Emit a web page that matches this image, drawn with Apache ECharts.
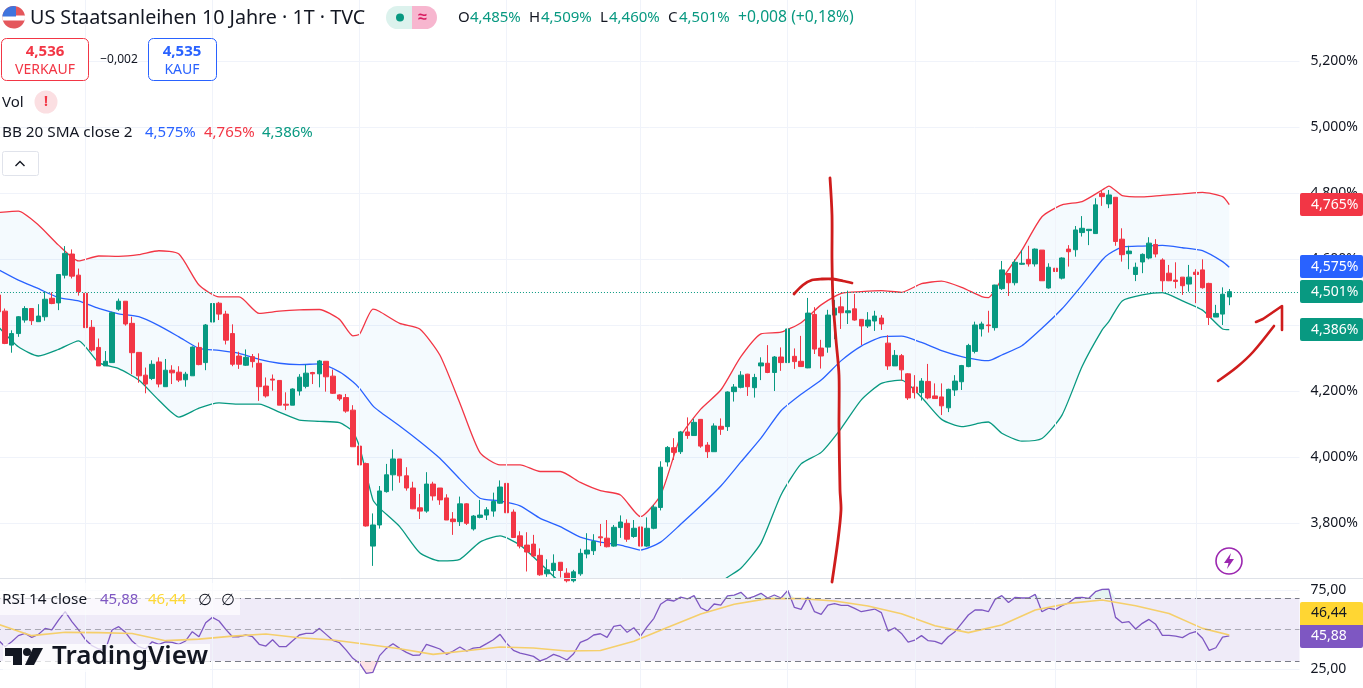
<!DOCTYPE html>
<html>
<head>
<meta charset="utf-8">
<title>US Staatsanleihen 10 Jahre</title>
<script src="https://cdn.jsdelivr.net/npm/echarts@6/dist/echarts.min.js"></script>
<style>
  html, body { margin: 0; padding: 0; background: #fff; }
  #chart { width: 1363px; height: 688px; }
</style>
</head>
<body>
<div id="chart"></div>
<script>
// daily candles (10 per row)
var opens = [
  4.491,4.442,4.339,4.374,4.415,4.450,4.410,4.425,4.481,4.467,
  4.551,4.615,4.551,4.496,4.393,4.332,4.276,4.286,4.448,4.472,
  4.405,4.317,4.248,4.238,4.288,4.213,4.263,4.257,4.234,4.246,
  4.332,4.286,4.409,4.466,4.433,4.374,4.306,4.278,4.304,4.284,
  4.215,4.236,4.232,4.160,4.157,4.200,4.214,4.256,4.252,4.290,
  4.245,4.188,4.180,4.142,4.033,3.980,3.730,3.794,3.895,3.946,
  3.994,3.943,3.906,3.846,3.836,3.918,3.906,3.876,3.812,3.804,
  3.858,3.782,3.817,3.824,3.836,3.860,3.920,3.833,3.761,3.733,
  3.736,3.702,3.646,3.656,3.681,3.648,3.625,3.646,3.706,3.716,
  3.758,3.754,3.730,3.786,3.799,3.759,3.788,3.730,3.784,3.847,
  3.985,4.028,4.016,4.076,4.065,4.114,4.036,4.016,4.093,4.092,
  4.198,4.211,4.251,4.210,4.276,4.284,4.256,4.303,4.286,4.305,
  4.290,4.270,4.432,4.330,4.333,4.430,4.455,4.437,4.449,4.417,
  4.397,4.412,4.421,4.345,4.276,4.307,4.252,4.212,4.195,4.229,
  4.185,4.182,4.149,4.203,4.228,4.274,4.320,4.388,4.400,4.392,
  4.510,4.556,4.528,4.584,4.599,4.585,4.627,4.512,4.572,4.542,
  4.630,4.628,4.680,4.686,4.677,4.799,4.767,4.787,4.660,4.616,
  4.553,4.591,4.603,4.644,4.597,4.557,4.536,4.545,4.524,4.560,
  4.567,4.526,4.424,4.433,4.485
];
var closes = [
  4.440,4.344,4.374,4.425,4.450,4.413,4.427,4.478,4.465,4.553,
  4.617,4.548,4.501,4.392,4.324,4.276,4.290,4.437,4.472,4.403,
  4.316,4.246,4.221,4.281,4.221,4.263,4.255,4.233,4.251,4.333,
  4.280,4.400,4.465,4.433,4.354,4.281,4.281,4.302,4.289,4.213,
  4.185,4.233,4.157,4.157,4.206,4.242,4.254,4.252,4.291,4.243,
  4.193,4.176,4.139,4.031,3.976,3.791,3.794,3.897,3.946,3.994,
  3.943,3.906,3.843,3.836,3.918,3.882,3.870,3.809,3.804,3.858,
  3.799,3.821,3.824,3.840,3.865,3.909,3.831,3.756,3.730,3.712,
  3.700,3.643,3.658,3.678,3.656,3.625,3.652,3.708,3.718,3.744,
  3.755,3.728,3.787,3.803,3.751,3.784,3.730,3.784,3.848,3.969,
  4.029,4.014,4.076,4.065,4.105,4.033,4.016,4.094,4.084,4.197,
  4.212,4.248,4.213,4.241,4.285,4.256,4.303,4.286,4.388,4.289,
  4.274,4.436,4.327,4.306,4.430,4.451,4.437,4.443,4.415,4.397,
  4.415,4.427,4.403,4.276,4.308,4.264,4.179,4.195,4.230,4.179,
  4.177,4.155,4.205,4.230,4.277,4.338,4.400,4.403,4.398,4.521,
  4.567,4.528,4.590,4.587,4.585,4.630,4.534,4.575,4.562,4.603,
  4.622,4.688,4.693,4.690,4.764,4.789,4.794,4.653,4.613,4.624,
  4.575,4.614,4.648,4.615,4.534,4.534,4.532,4.519,4.545,4.553,
  4.513,4.423,4.435,4.493,4.501
];
var highs = [
  4.500,4.450,4.384,4.427,4.457,4.451,4.463,4.501,4.499,4.553,
  4.639,4.629,4.571,4.501,4.415,4.359,4.321,4.440,4.480,4.472,
  4.425,4.317,4.271,4.293,4.302,4.297,4.278,4.275,4.258,4.335,
  4.347,4.403,4.494,4.470,4.443,4.402,4.319,4.326,4.312,4.314,
  4.241,4.250,4.232,4.196,4.208,4.251,4.280,4.258,4.294,4.290,
  4.265,4.190,4.191,4.157,4.067,3.983,3.829,3.912,3.979,4.023,
  3.994,3.969,3.925,3.888,3.954,3.925,3.906,3.887,3.833,3.880,
  3.860,3.824,3.870,3.848,3.892,3.929,3.932,3.841,3.775,3.772,
  3.764,3.723,3.690,3.705,3.681,3.663,3.658,3.722,3.769,3.766,
  3.797,3.809,3.794,3.823,3.811,3.809,3.789,3.817,3.855,3.987,
  4.033,4.057,4.079,4.120,4.115,4.114,4.045,4.102,4.117,4.199,
  4.221,4.260,4.252,4.252,4.302,4.339,4.306,4.332,4.390,4.329,
  4.367,4.482,4.454,4.355,4.446,4.476,4.486,4.504,4.494,4.417,
  4.439,4.443,4.430,4.369,4.324,4.312,4.254,4.248,4.239,4.282,
  4.223,4.223,4.207,4.248,4.279,4.343,4.410,4.410,4.443,4.522,
  4.594,4.556,4.599,4.627,4.640,4.632,4.627,4.587,4.599,4.605,
  4.642,4.700,4.730,4.691,4.784,4.807,4.809,4.787,4.693,4.640,
  4.589,4.617,4.666,4.660,4.602,4.582,4.590,4.545,4.582,4.569,
  4.599,4.528,4.461,4.514,4.509
];
var lows = [
  4.438,4.342,4.316,4.364,4.407,4.400,4.410,4.413,4.463,4.445,
  4.541,4.541,4.489,4.392,4.319,4.276,4.276,4.286,4.443,4.398,
  4.251,4.225,4.193,4.233,4.211,4.213,4.221,4.227,4.213,4.246,
  4.278,4.263,4.389,4.415,4.341,4.275,4.267,4.276,4.271,4.170,
  4.180,4.201,4.157,4.142,4.157,4.186,4.208,4.221,4.211,4.198,
  4.191,4.170,4.134,4.031,3.968,3.789,3.670,3.783,3.892,3.898,
  3.922,3.898,3.842,3.812,3.831,3.868,3.855,3.809,3.764,3.791,
  3.794,3.777,3.814,3.809,3.819,3.858,3.829,3.756,3.723,3.653,
  3.698,3.640,3.637,3.635,3.635,3.620,3.620,3.640,3.693,3.703,
  3.730,3.726,3.728,3.755,3.743,3.755,3.700,3.728,3.781,3.838,
  3.971,3.991,4.009,4.055,4.065,4.028,3.997,4.016,4.067,4.079,
  4.168,4.208,4.185,4.180,4.233,4.254,4.200,4.261,4.225,4.267,
  4.274,4.269,4.312,4.268,4.316,4.357,4.388,4.403,4.413,4.339,
  4.391,4.382,4.385,4.264,4.276,4.231,4.173,4.177,4.171,4.175,
  4.177,4.127,4.136,4.185,4.203,4.272,4.314,4.365,4.377,4.383,
  4.506,4.488,4.520,4.582,4.577,4.577,4.534,4.510,4.518,4.538,
  4.577,4.607,4.668,4.642,4.677,4.761,4.754,4.640,4.592,4.569,
  4.533,4.557,4.599,4.605,4.501,4.533,4.511,4.491,4.501,4.466,
  4.510,4.400,4.424,4.400,4.460
];

// Bollinger bands, read at these bars
var bbBars = [0,3,6,9,12,15,18,21,24,27,30,33,36,39,42,45,48,51,53,54,56,57,60,63,66,69,72,75,78,81,84,87,90,93,96,99,
  102,105,108,111,114,117,120,123,126,129,132,135,138,141,144,147,148,150,153,156,159,162,165,166,168,171,174,177,180,183,184];
var bbUpper = [4.741,4.745,4.703,4.642,4.594,4.609,4.608,4.613,4.625,4.615,4.521,4.485,4.485,4.435,4.442,4.446,4.447,4.417,4.367,4.372,4.448,4.441,4.405,4.388,4.309,4.163,4.013,3.976,3.976,3.956,3.956,3.923,3.898,3.885,3.819,3.885,
  4.062,4.145,4.203,4.304,4.373,4.378,4.407,4.461,4.496,4.501,4.504,4.499,4.525,4.533,4.514,4.486,4.483,4.539,4.627,4.728,4.764,4.774,4.809,4.821,4.792,4.788,4.793,4.797,4.802,4.789,4.765];
var bbBasis = [4.568,4.536,4.510,4.483,4.473,4.450,4.434,4.425,4.398,4.364,4.329,4.323,4.314,4.296,4.284,4.280,4.282,4.258,4.228,4.208,4.155,4.138,4.094,4.047,3.996,3.933,3.875,3.867,3.852,3.814,3.789,3.757,3.742,3.733,3.718,3.742,
  3.796,3.852,3.912,3.985,4.057,4.140,4.190,4.233,4.292,4.336,4.363,4.366,4.347,4.322,4.304,4.293,4.292,4.309,4.337,4.390,4.449,4.521,4.597,4.615,4.636,4.639,4.641,4.634,4.625,4.592,4.575];
var bbLower = [4.395,4.334,4.306,4.326,4.352,4.286,4.268,4.233,4.172,4.121,4.148,4.164,4.160,4.160,4.136,4.112,4.108,4.104,4.077,4.031,3.870,3.845,3.789,3.710,3.685,3.690,3.742,3.761,3.733,3.678,3.620,3.580,3.550,3.530,3.520,3.500,
  3.490,3.520,3.620,3.663,3.739,3.885,3.979,4.014,4.087,4.173,4.223,4.233,4.181,4.114,4.092,4.104,4.106,4.072,4.048,4.056,4.127,4.274,4.385,4.410,4.473,4.491,4.498,4.473,4.445,4.388,4.386];

// RSI per bar
var rsiValues = [
  43.3,39.1,42.2,46.1,47.5,45,46.9,50.7,49.7,56,
  61.3,55,49.7,43.7,39.7,37.6,36.9,49.7,51.8,48.2,
  42.7,39.1,37.6,42.2,40.6,42.2,41.8,40.6,42.7,48.6,
  45.4,54.3,57.7,55.4,50.1,45.4,45.4,46.5,45.4,40.6,
  39.5,43.5,39.1,39.1,42.9,46.5,47.5,47.5,50.7,46.9,
  43.1,41.6,36.9,31.7,28.5,22.1,22.8,33.4,38,41,
  38,35.5,33.6,33.8,40.6,39.1,37.6,34.2,36.3,38.9,
  36.3,38.2,38.6,41,43.5,46.9,41.2,36.7,35,34,
  32.9,30,31.7,34.2,32.7,30.6,34.6,41.8,43.5,46.5,
  47.3,45,52,52.8,48.2,51.1,45.8,51.8,57.1,66,
  68.9,68.1,70.6,69.4,71.5,63.8,61.7,66.2,65.5,71.3,
  71.9,73.6,69.6,71,73,70,71.9,70,74.9,64,
  62.8,70.6,61.3,59.6,65.5,66.4,65.3,65.3,63.4,61.3,
  62.2,63,60.7,49,51.1,47.5,42,43.3,46.1,42.9,
  42.5,40.8,45.4,48.6,53.9,59.2,62.4,62.4,61.3,69.1,
  71.5,67.2,70.4,70,70,72.3,61.3,63.6,62.6,65.1,
  67,70.2,70.4,69.8,74,75.5,75.7,57.7,54.3,55,
  50.3,53.9,56.4,53.3,46.3,46.3,45.8,44.8,47.3,48.6,
  44.4,36.7,38.4,45.2,45.88
];
var rsiMaBars = [0,5,10,15,20,25,30,35,40,45,50,55,60,65,70,75,80,85,90,95,100,105,110,115,120,125,130,135,140,145,150,155,160,165,170,175,180,184];
var rsiMaValues = [53.3,46.1,48.2,48,47.5,42.9,43.9,45.8,47.1,44.8,43.3,40.6,37.8,34.2,36.5,38.9,38.2,36.3,36.7,42.5,51.3,59.8,66,69.6,69.6,68.1,64.9,60,52.4,48,52.8,62.4,66.6,68.7,65.1,60.2,50.7,46.44];

// first bar of each month, the vertical grid lines
var monthBars = [13,32,54,76,96,118,137,158,179];
var priceTicks = [3.8,4,4.2,4.4,4.6,4.8,5,5.2];
var rsiTicks = [25,75];
var barCount = 195;

var FONT = '"Noto Sans", sans-serif';
var UP = '#089981', DOWN = '#f23645', BLUE = '#2962ff', PURPLE = '#7e57c2', YELLOW = '#fdd835';
var INK = '#131722', GRID = '#f0f3fa';

var categories = [];
for (var c = 0; c < barCount; c++) categories.push(c);

function pairs(bars, values) {
  return bars.map(function (b, i) { return [b, values[i]]; });
}

function comma(v, digits) {
  return v.toFixed(digits).replace('.', ',');
}

function monthLines() {
  return {
    silent: true, symbol: 'none', animation: false, label: { show: false },
    lineStyle: { color: GRID, width: 1, type: 'solid' },
    data: monthBars.map(function (b) { return { xAxis: b }; })
  };
}

function text(x, y, str, size, color, extra) {
  var style = { x: x, y: y, text: str, fill: color, font: (extra && extra.weight ? extra.weight + ' ' : '') + size + 'px ' + FONT,
    textVerticalAlign: 'middle', textAlign: (extra && extra.align) || 'left' };
  return { type: 'text', z: 100, silent: true, style: style };
}

function rect(x, y, w, h, r, fill, stroke) {
  return { type: 'rect', z: 99, silent: true, shape: { x: x, y: y, width: w, height: h, r: r },
    style: { fill: fill, stroke: stroke || null, lineWidth: 1 } };
}

function circle(x, y, r, fill, stroke, lw) {
  return { type: 'circle', z: 99, silent: true, shape: { cx: x, cy: y, r: r },
    style: { fill: fill, stroke: stroke || null, lineWidth: lw || 1 } };
}

function poly(points, fill, z) {
  return { type: 'polygon', z: z || 100, silent: true, shape: { points: points }, style: { fill: fill } };
}

function pen(points, width) {
  return { type: 'polyline', z: 110, silent: true, shape: { points: points, smooth: 0.3 },
    style: { stroke: '#cf1c1c', fill: null, lineWidth: width || 2.8, lineCap: 'round', lineJoin: 'round' } };
}

// flag pieces are slices of a disc
function discSlice(cx, cy, r, y1, y2, xMax) {
  var pts = [], y, dx;
  for (y = y1; y <= y2; y += 0.5) {
    dx = Math.sqrt(Math.max(0, r * r - (y - cy) * (y - cy)));
    pts.push([Math.min(cx + dx, xMax), y]);
  }
  for (y = y2; y >= y1; y -= 0.5) {
    dx = Math.sqrt(Math.max(0, r * r - (y - cy) * (y - cy)));
    pts.push([Math.min(cx - dx, xMax), y]);
  }
  return pts;
}

var chart = echarts.init(document.getElementById('chart'), null, { renderer: 'canvas' });

function bandItem(params, api) {
  var top = bbBars.map(function (b, i) { return api.coord([b, bbUpper[i]]); });
  var bottom = bbBars.map(function (b, i) { return api.coord([b, bbLower[i]]); }).reverse();
  return { type: 'polygon', shape: { points: top.concat(bottom) }, style: { fill: 'rgba(33,150,243,0.05)' } };
}

chart.setOption({
  animation: false,
  backgroundColor: '#ffffff',
  textStyle: { fontFamily: FONT },
  grid: [
    { left: -5.05, top: 0, width: 1304.55, height: 578, outerBoundsMode: 'none' },
    { left: -5.05, top: 579, width: 1304.55, height: 109, outerBoundsMode: 'none' }
  ],
  xAxis: [0, 1].map(function (g) {
    return { type: 'category', gridIndex: g, data: categories, boundaryGap: true, show: false };
  }),
  yAxis: [
    {
      type: 'value', gridIndex: 0, position: 'right', min: 3.6333, max: 5.3848,
      axisLine: { show: false },
      axisTick: { show: false, customValues: priceTicks },
      axisLabel: {
        customValues: priceTicks, color: INK, fontSize: 14, margin: 11, fontFamily: FONT,
        formatter: function (v) { return comma(v, 3) + '%'; }
      },
      splitLine: { show: true, lineStyle: { color: GRID, width: 1 } }
    },
    {
      type: 'value', gridIndex: 1, position: 'right', min: 12.83, max: 82.08,
      axisLine: { show: false },
      axisTick: { show: false, customValues: rsiTicks },
      axisLabel: {
        customValues: rsiTicks, color: INK, fontSize: 14, margin: 11, fontFamily: FONT,
        formatter: function (v) { return comma(v, 2); }
      },
      splitLine: { show: true, lineStyle: { color: GRID, width: 1 } }
    }
  ],
  series: [
    {
      name: 'band', type: 'custom', xAxisIndex: 0, yAxisIndex: 0, z: 1, clip: true, silent: true,
      renderItem: bandItem, data: [[0, 4.5]]
    },
    {
      name: 'BB upper', type: 'line', xAxisIndex: 0, yAxisIndex: 0, z: 2, showSymbol: false, silent: true, smooth: 0.2,
      data: pairs(bbBars, bbUpper), lineStyle: { color: DOWN, width: 1.3 }, markLine: monthLines()
    },
    {
      name: 'BB basis', type: 'line', xAxisIndex: 0, yAxisIndex: 0, z: 2, showSymbol: false, silent: true, smooth: 0.2,
      data: pairs(bbBars, bbBasis), lineStyle: { color: BLUE, width: 1.3 }
    },
    {
      name: 'BB lower', type: 'line', xAxisIndex: 0, yAxisIndex: 0, z: 2, showSymbol: false, silent: true, smooth: 0.2,
      data: pairs(bbBars, bbLower), lineStyle: { color: UP, width: 1.3 }
    },
    {
      name: 'US10Y', type: 'candlestick', xAxisIndex: 0, yAxisIndex: 0, z: 3, silent: true, barWidth: 5,
      data: opens.map(function (o, i) { return [o, closes[i], lows[i], highs[i]]; }),
      itemStyle: { color: UP, color0: DOWN, borderColor: UP, borderColor0: DOWN, borderWidth: 1 },
      markLine: {
        silent: true, symbol: 'none', animation: false, label: { show: false },
        lineStyle: { color: UP, width: 1, type: [1, 2] },
        data: [{ yAxis: closes[closes.length - 1] }]
      }
    },
    {
      name: 'RSI', type: 'line', xAxisIndex: 1, yAxisIndex: 1, z: 3, showSymbol: false, silent: true,
      data: rsiValues, lineStyle: { color: PURPLE, width: 1.3 },
      markArea: {
        silent: true, itemStyle: { color: 'rgba(126,87,194,0.12)' },
        data: [[{ yAxis: 70 }, { yAxis: 30 }]]
      },
      markLine: {
        silent: true, symbol: 'none', animation: false, label: { show: false },
        lineStyle: { color: '#787b86', width: 1, type: [6, 4] },
        data: [{ yAxis: 70 }, { yAxis: 50, lineStyle: { opacity: 0.6 } }, { yAxis: 30 }]
      }
    },
    {
      name: 'RSI oversold', type: 'line', xAxisIndex: 1, yAxisIndex: 1, z: 2, showSymbol: false, silent: true,
      data: rsiValues.map(function (v) { return Math.min(v, 30); }),
      lineStyle: { opacity: 0 }, areaStyle: { origin: 30, color: 'rgba(242,54,69,0.2)' }
    },
    {
      name: 'RSI overbought', type: 'line', xAxisIndex: 1, yAxisIndex: 1, z: 2, showSymbol: false, silent: true,
      data: rsiValues.map(function (v) { return Math.max(v, 70); }),
      lineStyle: { opacity: 0 }, areaStyle: { origin: 70, color: 'rgba(8,153,129,0.15)' }
    },
    {
      name: 'RSI MA', type: 'line', xAxisIndex: 1, yAxisIndex: 1, z: 4, showSymbol: false, silent: true,
      data: pairs(rsiMaBars, rsiMaValues), lineStyle: { color: '#f5cf6b', width: 1.6 },
      markLine: monthLines()
    }
  ]
});

function priceTag(value, str, color) {
  var y = chart.convertToPixel({ yAxisIndex: 0 }, value);
  return [rect(1300, Math.round(y) - 12, 63, 23, 2, color), text(1311, Math.round(y), str, 14, '#ffffff')];
}

var lastRsi = rsiValues[rsiValues.length - 1];
var lastMa = rsiMaValues[rsiMaValues.length - 1];
var rsiY = Math.round(chart.convertToPixel({ yAxisIndex: 1 }, lastRsi));

var marks = [].concat(
  // pane divider
  [{ type: 'line', z: 90, silent: true, shape: { x1: 0, y1: 578.5, x2: 1363, y2: 578.5 }, style: { stroke: '#dfe2e8', lineWidth: 1 } }],

  // header
  [poly(discSlice(13.7, 17.3, 11.3, 6, 28.6, 40), '#e4575c'),
   poly(discSlice(13.7, 17.3, 11.3, 15.5, 20.5, 40), '#ffffff', 101),
   poly(discSlice(13.7, 17.3, 11.3, 6, 16.5, 16), '#3f74dd', 102),
   text(30, 18, 'US Staatsanleihen 10 Jahre · 1T · TVC', 19.7, INK)],
  [rect(386, 6, 30, 23, [11.5, 0, 0, 11.5], '#dcf2ed'), rect(412, 6, 25, 23, [0, 11.5, 11.5, 0], '#f7b6cf'),
   circle(400, 17.5, 4, UP), text(422.7, 17, '≈', 16, '#d81b60', { align: 'center', weight: 'bold' })],
  [text(458, 18, 'O', 15, INK), text(470, 18, '4,485%', 15, UP),
   text(529, 18, 'H', 15, INK), text(541, 18, '4,509%', 15, UP),
   text(600, 18, 'L', 15, INK), text(609, 18, '4,460%', 15, UP),
   text(668, 18, 'C', 15, INK), text(679, 18, '4,501%', 15, UP),
   text(738, 18, '+0,008 (+0,18%)', 15.7, UP)],

  // bid and ask
  [rect(1.5, 38.5, 87, 42, 5, '#ffffff', DOWN), text(45, 52, '4,536', 15, DOWN, { align: 'center', weight: 'bold' }), text(45, 70, 'VERKAUF', 14, DOWN, { align: 'center' }),
   text(119, 60, '−0,002', 12, INK, { align: 'center' }),
   rect(148.5, 38.5, 68, 42, 5, '#ffffff', BLUE), text(182, 52, '4,535', 15, BLUE, { align: 'center', weight: 'bold' }), text(182, 70, 'KAUF', 14, BLUE, { align: 'center' })],

  // legend rows
  [text(2, 103, 'Vol', 15, INK), circle(46, 102, 11.5, '#fbdfe2'), text(46, 102, '!', 14, DOWN, { align: 'center', weight: 'bold' })],
  [text(2, 133, 'BB 20 SMA close 2', 15.3, INK), text(145, 133, comma(bbBasis[bbBasis.length - 1], 3) + '%', 15, BLUE),
   text(204, 133, comma(bbUpper[bbUpper.length - 1], 3) + '%', 15, DOWN), text(262, 133, comma(bbLower[bbLower.length - 1], 3) + '%', 15, UP)],
  [rect(2.5, 151.5, 36, 24, 2, '#ffffff', '#e0e3eb'),
   { type: 'polyline', z: 100, silent: true, shape: { points: [[15.5, 166], [20, 161.5], [24.5, 166]] }, style: { stroke: INK, fill: null, lineWidth: 1.4 } }],

  // price axis tags
  priceTag(bbUpper[bbUpper.length - 1], '4,765%', DOWN),
  priceTag(bbBasis[bbBasis.length - 1], '4,575%', BLUE),
  priceTag(closes[closes.length - 1], '4,501%', UP),
  priceTag(bbLower[bbLower.length - 1], '4,386%', UP),

  // rsi tags sit stacked so they do not overlap
  [rect(1300, rsiY - 34, 63, 23, [2, 2, 0, 0], '#ffd633'), text(1311, rsiY - 23, comma(lastMa, 2), 14, INK),
   rect(1300, rsiY - 11, 63, 23, [0, 0, 2, 2], PURPLE), text(1311, rsiY, comma(lastRsi, 2), 14, '#ffffff')],

  // rsi legend
  [rect(0, 583, 240, 32, 0, 'rgba(255,255,255,0.65)'),
   text(2, 600, 'RSI 14 close', 15.3, INK), text(100, 600, comma(lastRsi, 2), 15, PURPLE), text(148, 600, comma(lastMa, 2), 15, YELLOW),
   text(205, 600, '∅', 16, INK, { align: 'center' }), text(228, 600, '∅', 16, INK, { align: 'center' })],

  // logo
  [rect(3, 644, 207, 28, 0, 'rgba(255,255,255,0.75)'),
   poly([[5, 648], [22, 648], [22, 665], [13, 665], [13, 656], [5, 656]], '#131722'),
   circle(27, 652, 4, '#131722'),
   poly([[33, 648], [43, 648], [34, 665], [25, 665]], '#131722'),
   text(52, 657, 'TradingView', 26, '#131722', { weight: 600 })],

  // replay button
  [circle(1229, 561, 13, '#ffffff', '#9c27b0', 1.6),
   poly([[1231, 553], [1224, 563], [1228.5, 563], [1227, 569], [1234, 559], [1229.5, 559]], '#9c27b0')],

  // hand drawn annotations
  [pen([[830, 178], [832, 215], [832, 260], [833, 300], [836, 340], [839, 375], [839, 427], [840, 490], [841, 510], [838, 540], [832, 582]], 2.8),
   pen([[794, 294], [803, 285], [812, 280], [822, 279], [833, 279], [843, 281], [852, 283]], 2.8),
   pen([[1218, 381], [1237, 367], [1253, 352], [1274, 326]], 2.6),
   { type: 'polyline', z: 110, silent: true, shape: { points: [[1256, 322], [1263, 319], [1282, 306], [1282, 330]] },
     style: { stroke: '#cf1c1c', fill: null, lineWidth: 2.6, lineCap: 'round', lineJoin: 'round' } }]
);

chart.setOption({ graphic: { elements: marks } });
</script>
</body>
</html>
